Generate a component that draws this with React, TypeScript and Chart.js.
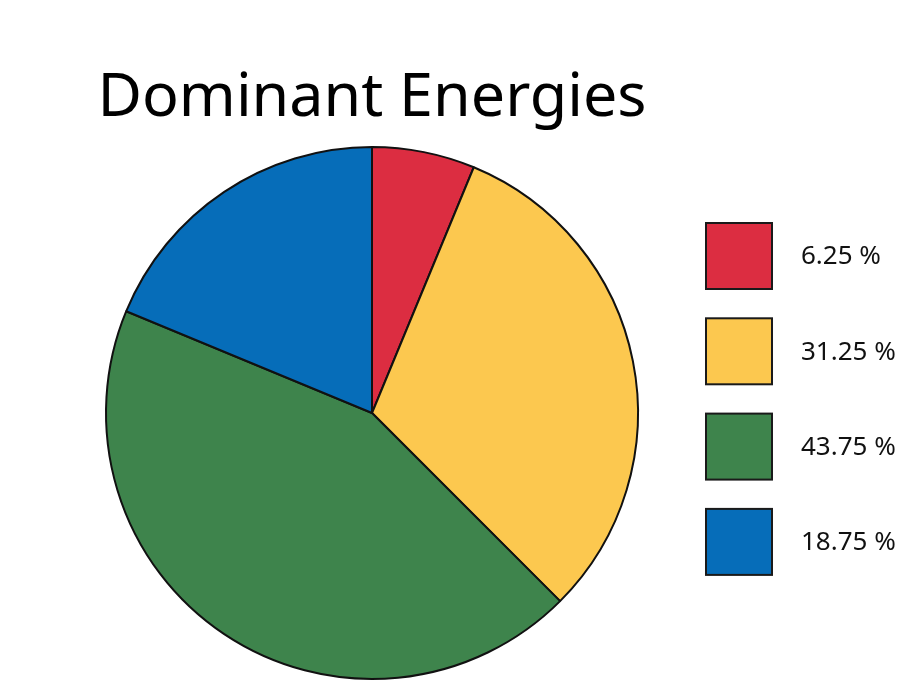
import React, { useEffect, useRef } from "react";
import { Chart, registerables } from "chart.js";

Chart.register(...registerables);

const categories = ["6.25 %", "31.25 %", "43.75 %", "18.75 %"];
const values = [6.25, 31.25, 43.75, 18.75];
const colors = ["#dc2d41", "#fcc84f", "#3e844c", "#066db9"];
const titleText = "Dominant Energies";

const FONT = "'Noto Sans', 'DejaVu Sans', sans-serif";

const customLegend = {
  id: "customLegend",
  afterDraw(chart: any) {
    const ctx = chart.ctx;
    const labels = chart.data.labels as string[];
    const ds = chart.data.datasets[0];
    ctx.save();
    labels.forEach((lab, i) => {
      const x = 706;
      const y = 223 + i * 95.3;
      const s = 66;
      ctx.fillStyle = ds.backgroundColor[i];
      ctx.fillRect(x, y, s, s);
      ctx.lineWidth = 2;
      ctx.strokeStyle = "#1a1a1a";
      ctx.strokeRect(x, y, s, s);
      ctx.fillStyle = "#111";
      ctx.font = `26px ${FONT}`;
      ctx.textBaseline = "middle";
      ctx.textAlign = "left";
      ctx.fillText(lab, 801, y + s / 2 + 1);
    });
    ctx.restore();
  },
};

export default function App() {
  const ref = useRef<HTMLCanvasElement | null>(null);
  useEffect(() => {
    if (!ref.current) return;
    const chart = new Chart(ref.current, {
      type: "pie",
      data: {
        labels: categories,
        datasets: [
          {
            data: values,
            backgroundColor: colors,
            borderColor: "#111",
            borderWidth: 2,
          },
        ],
      },
      options: {
        animation: false,
        responsive: false,
        radius: 266,
        layout: { padding: { left: 0, right: 171, top: 0, bottom: 4 } },
        plugins: {
          legend: { display: false },
          tooltip: { enabled: false },
          title: {
            display: true,
            text: titleText,
            fullSize: false,
            color: "#000",
            font: { family: FONT, size: 61, weight: "normal", lineHeight: 1.2 },
            padding: { top: 62.4, bottom: 10.4 },
          },
        },
      } as any,
      plugins: [customLegend],
    });
    return () => chart.destroy();
  }, []);
  return (
    <div style={{ position: "fixed", left: 0, top: 0, width: 915, height: 684, background: "#fff" }}>
      <canvas ref={ref} width={915} height={684} style={{ width: 915, height: 684 }} />
    </div>
  );
}
